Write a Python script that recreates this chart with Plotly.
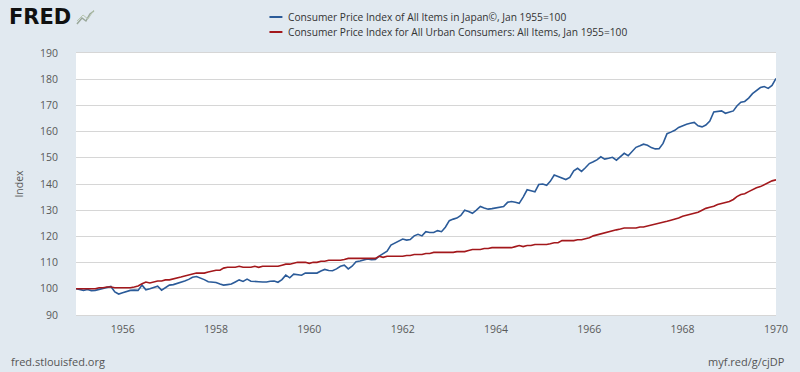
import pandas as pd
import plotly.graph_objects as go

# Monthly dates Jan 1955 .. Jan 1970
dates = pd.date_range("1955-01-01", "1970-01-01", freq="MS")

japan_name = "Consumer Price Index of All Items in Japan©, Jan 1955=100"
us_name = "Consumer Price Index for All Urban Consumers: All Items, Jan 1955=100"

japan_cpi = [
    # 1955
    100.0, 99.8, 99.4, 99.7, 99.3, 99.4, 99.8, 100.2, 100.6, 100.9, 98.8, 98.0,
    # 1956
    98.5, 99.1, 99.4, 99.5, 99.4, 101.4, 99.6, 100.0, 100.5, 101.0, 99.5, 100.5,
    # 1957
    101.4, 101.6, 102.0, 102.4, 103.0, 103.6, 104.4, 104.7, 104.2, 103.5, 102.7, 102.5,
    # 1958
    102.4, 101.8, 101.4, 101.6, 101.8, 102.6, 103.4, 102.8, 103.7, 102.9, 102.7, 102.7,
    # 1959
    102.6, 102.6, 102.9, 103.0, 102.5, 103.5, 105.2, 104.2, 105.6, 105.3, 105.2, 106.0,
    # 1960
    106.0, 106.2, 106.0, 106.8, 107.4, 107.0, 106.9, 107.6, 108.6, 109.0, 107.6, 108.6,
    # 1961
    110.3, 110.6, 111.0, 111.4, 111.1, 111.2, 112.5, 113.6, 114.4, 116.7, 117.5, 118.4,
    # 1962
    119.0, 118.6, 118.8, 120.2, 120.8, 120.2, 121.8, 121.5, 121.5, 122.2, 121.8, 123.5,
    # 1963
    126.0, 126.6, 127.0, 128.0, 130.0, 129.5, 128.8, 130.0, 131.4, 130.8, 130.4, 130.6,
    # 1964
    130.9, 131.0, 131.4, 133.0, 133.3, 133.0, 132.6, 135.0, 137.8, 137.4, 137.0, 139.8,
    # 1965
    140.0, 139.5, 141.0, 143.4, 142.8, 142.3, 141.7, 142.5, 145.0, 146.0, 144.8, 146.2,
    # 1966
    147.8, 148.5, 149.2, 150.4, 149.5, 149.8, 150.2, 149.1, 150.5, 151.7, 150.8, 152.3,
    # 1967
    154.0, 154.6, 155.2, 154.8, 153.9, 153.4, 153.5, 155.5, 159.2, 159.8, 160.5, 161.6,
    # 1968
    162.3, 162.8, 163.2, 163.5, 162.2, 161.8, 162.5, 164.0, 167.5, 167.7, 167.9, 167.0,
    # 1969
    167.5, 167.9, 169.8, 171.2, 171.5, 172.8, 174.5, 175.8, 176.8, 177.2, 176.5, 177.6,
    # 1970
    180.3,
]

us_cpi = [
    # 1955
    100.0, 100.0, 100.0, 100.0, 100.0, 100.0, 100.4, 100.4, 100.7, 100.7, 100.4, 100.4,
    # 1956
    100.4, 100.4, 100.4, 100.7, 101.1, 101.9, 102.6, 102.2, 102.6, 103.0, 103.0, 103.4,
    # 1957
    103.4, 103.7, 104.1, 104.5, 104.9, 105.2, 105.6, 106.0, 106.0, 106.0, 106.4, 106.7,
    # 1958
    107.1, 107.1, 107.9, 108.2, 108.2, 108.2, 108.6, 108.2, 108.2, 108.2, 108.6, 108.2,
    # 1959
    108.6, 108.6, 108.6, 108.6, 108.6, 109.0, 109.4, 109.4, 109.7, 110.1, 110.1, 110.1,
    # 1960
    109.7, 110.1, 110.1, 110.5, 110.5, 110.9, 110.9, 110.9, 110.9, 111.2, 111.6, 111.6,
    # 1961
    111.6, 111.6, 111.6, 111.6, 111.6, 111.6, 112.4, 112.0, 112.4, 112.4, 112.4, 112.4,
    # 1962
    112.4, 112.7, 112.7, 113.1, 113.1, 113.1, 113.5, 113.5, 113.9, 113.9, 113.9, 113.9,
    # 1963
    113.9, 113.9, 114.2, 114.2, 114.2, 114.6, 115.0, 115.0, 115.0, 115.4, 115.4, 115.7,
    # 1964
    115.7, 115.7, 115.7, 115.7, 115.7, 116.1, 116.5, 116.1, 116.5, 116.5, 116.9, 116.9,
    # 1965
    116.9, 116.9, 117.2, 117.6, 117.6, 118.4, 118.4, 118.4, 118.4, 118.7, 118.7, 119.1,
    # 1966
    119.5, 120.2, 120.6, 121.0, 121.3, 121.7, 122.1, 122.5, 122.8, 123.2, 123.2, 123.2,
    # 1967
    123.2, 123.6, 123.6, 124.0, 124.3, 124.7, 125.1, 125.5, 125.8, 126.2, 126.6, 127.0,
    # 1968
    127.7, 128.1, 128.5, 128.8, 129.2, 130.0, 130.7, 131.1, 131.5, 132.2, 132.6, 133.0,
    # 1969
    133.3, 134.1, 135.2, 136.0, 136.3, 137.1, 137.8, 138.6, 139.0, 139.7, 140.4, 141.2,
    # 1970
    141.6,
]

x_tick_vals = ["1956-01-01", "1958-01-01", "1960-01-01", "1962-01-01",
               "1964-01-01", "1966-01-01", "1968-01-01", "1970-01-01"]
x_tick_text = ["1956", "1958", "1960", "1962", "1964", "1966", "1968", "1970"]
y_ticks = [90, 100, 110, 120, 130, 140, 150, 160, 170, 180, 190]

BG = "#e1e9f0"
BLUE = "#2b5b99"
RED = "#a3181c"
GRID = "#d6d6d6"
FONT = "Open Sans"

fig = go.Figure()
fig.add_trace(go.Scatter(x=dates, y=japan_cpi, mode="lines", name=japan_name,
                         line=dict(color=BLUE, width=1.6)))
fig.add_trace(go.Scatter(x=dates, y=us_cpi, mode="lines", name=us_name,
                         line=dict(color=RED, width=1.6)))

W, H = 800, 372
ml, mr, mt, mb = 76, 22, 53, 57

def px(xp):
    return (xp - ml) / (W - ml - mr)

def py(yp):
    return (H - mb - yp) / (H - mt - mb)

shapes = []
annotations = []
# Legend (manual, FRED style)
for i, (name, col) in enumerate([(japan_name, BLUE), (us_name, RED)]):
    yy = 17 + 15 * i
    shapes.append(dict(type="line", xref="paper", yref="paper",
                       x0=px(270), x1=px(283), y0=py(yy), y1=py(yy),
                       line=dict(color=col, width=2)))
    annotations.append(dict(text=name, xref="paper", yref="paper",
                            x=px(287), y=py(yy), xanchor="left", yanchor="middle",
                            showarrow=False, font=dict(family=FONT, size=10.2, color="#333333")))

# FRED logo
annotations.append(dict(text="<b>FRED</b>", xref="paper", yref="paper",
                        x=px(7), y=py(17), xanchor="left", yanchor="middle",
                        showarrow=False,
                        font=dict(family="DejaVu Sans", size=21, color="#111111")))
shapes.append(dict(type="path", xref="paper", yref="paper",
                   path="M {:.4f},{:.4f} L {:.4f},{:.4f} L {:.4f},{:.4f} L {:.4f},{:.4f} L {:.4f},{:.4f}".format(
                       px(77), py(24), px(82), py(18), px(86), py(21), px(90), py(14), px(94), py(11)),
                   line=dict(color="#9aa89a", width=1.5)))
shapes.append(dict(type="path", xref="paper", yref="paper",
                   path="M {:.4f},{:.4f} L {:.4f},{:.4f} L {:.4f},{:.4f} L {:.4f},{:.4f}".format(
                       px(77), py(21), px(83), py(15), px(88), py(19), px(94), py(10)),
                   line=dict(color="#b8c7b0", width=1)))

# Footer
annotations.append(dict(text="fred.stlouisfed.org", xref="paper", yref="paper",
                        x=px(9), y=py(361), xanchor="left", yanchor="middle",
                        showarrow=False, font=dict(family=FONT, size=11, color="#555555")))
annotations.append(dict(text="myf.red/g/cjDP", xref="paper", yref="paper",
                        x=px(789), y=py(361), xanchor="right", yanchor="middle",
                        showarrow=False, font=dict(family=FONT, size=11, color="#555555")))

fig.update_layout(
    width=W, height=H,
    margin=dict(l=ml, r=mr, t=mt, b=mb),
    paper_bgcolor=BG, plot_bgcolor="white",
    showlegend=False,
    font=dict(family=FONT, size=10, color="#595959"),
    shapes=shapes, annotations=annotations,
    xaxis=dict(range=["1955-01-01", "1970-01-01"], tickvals=x_tick_vals, ticktext=x_tick_text,
               showgrid=False, showline=True, mirror=True, linecolor=GRID, linewidth=1,
               ticks="outside", ticklen=4, tickcolor="rgba(0,0,0,0)",
               tickfont=dict(family=FONT, size=10.5, color="#595959"), zeroline=False),
    yaxis=dict(range=[90, 190], tickvals=y_ticks, showgrid=True, gridcolor=GRID, gridwidth=1,
               zeroline=False, showline=False,
               ticks="outside", ticklen=15, tickcolor="rgba(0,0,0,0)",
               tickfont=dict(family=FONT, size=10.5, color="#595959"),
               title=dict(text="Index", font=dict(family=FONT, size=10.5, color="#595959"), standoff=14)),
)

fig.write_html("out.html", post_script="document.body.style.margin='0';",
               config={"displayModeBar": False})
